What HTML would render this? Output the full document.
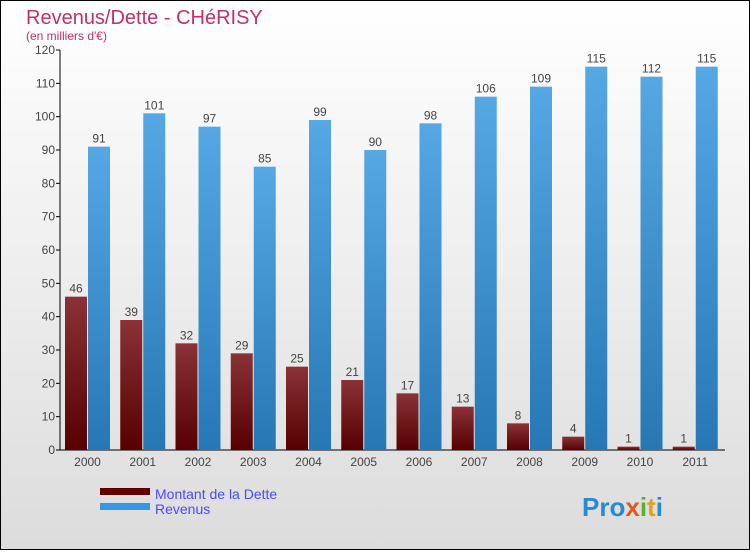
<!DOCTYPE html>
<html><head><meta charset="utf-8"><style>
body{margin:0;width:750px;height:550px;overflow:hidden;font-family:"Liberation Sans",sans-serif}
</style></head><body>
<svg width="750" height="550" xmlns="http://www.w3.org/2000/svg">
<defs>
<linearGradient id="bg" x1="0" y1="0" x2="0" y2="1"><stop offset="0" stop-color="#ffffff"/><stop offset="1" stop-color="#dcdcdc"/></linearGradient>
<linearGradient id="gd" x1="0" y1="0" x2="0" y2="1"><stop offset="0" stop-color="#8a3236"/><stop offset="1" stop-color="#560000"/></linearGradient>
<linearGradient id="gr" x1="0" y1="0" x2="0" y2="1"><stop offset="0" stop-color="#56a8e4"/><stop offset="1" stop-color="#2677b4"/></linearGradient>
</defs>
<rect x="0.5" y="0.5" width="749" height="549" fill="url(#bg)" stroke="#000"/>
<text x="26" y="24" font-size="20" fill="#c0306a">Revenus/Dette - CHéRISY</text>
<text x="26" y="40" font-size="12" fill="#c0306a">(en milliers d'€)</text>
<g id="axes"></g><g id="bars"></g>
<rect x="100" y="488" width="50" height="7" fill="#600000"/>
<text x="155" y="499" font-size="14" fill="#4a4aff">Montant de la Dette</text>
<rect x="100" y="503" width="50" height="7" fill="#3a96de"/>
<text x="155" y="514" font-size="14" fill="#4a4aff">Revenus</text>
<text x="582" y="516" font-size="26" font-weight="bold"><tspan fill="#2a8ad0">Pro</tspan><tspan fill="#e05a20">x</tspan><tspan fill="#5ab030">i</tspan><tspan fill="#e0a020">t</tspan><tspan fill="#2a8ad0">i</tspan></text>
</svg>
<script>
const years=["2000","2001","2002","2003","2004","2005","2006","2007","2008","2009","2010","2011"];
const dette=[46,39,32,29,25,21,17,13,8,4,1,1];
const revenus=[91,101,97,85,99,90,98,106,109,115,112,115];
const ticks=[0,10,20,30,40,50,60,70,80,90,100,110,120];
const NS="http://www.w3.org/2000/svg";
const y=v=>450-v*400/120;
const xc=i=>87.5+i*55.25;
function mk(t,a,p){const e=document.createElementNS(NS,t);for(const k in a)e.setAttribute(k,a[k]);p.appendChild(e);return e;}
const ax=document.getElementById('axes'),bs=document.getElementById('bars');
const yl=mk('line',{x1:60,y1:50,x2:60,y2:450,stroke:'#000'},ax);


const xl=mk('line',{x1:60,y1:450,x2:725,y2:450,stroke:'#000'},ax);


ticks.forEach(t=>{
 mk('line',{x1:56,y1:y(t),x2:60,y2:y(t),stroke:'#000'},ax);
 const tx=mk('text',{x:55,y:y(t)+4,'font-size':12,fill:'#444','text-anchor':'end'},ax);tx.textContent=t;
 
 
});
years.forEach((yr,i)=>{
 const c=xc(i);
 const tx=mk('text',{x:c,y:466,'font-size':12,fill:'#444','text-anchor':'middle'},ax);tx.textContent=yr;
 
 
 const b1=mk('rect',{x:c-22.5,y:y(dette[i]),width:22,height:450-y(dette[i]),fill:'url(#gd)'},bs);
 
 
 const l1=mk('text',{x:c-11.5,y:y(dette[i])-4,'font-size':12,fill:'#444','text-anchor':'middle'},bs);l1.textContent=dette[i];
 
 
 const b2=mk('rect',{x:c+0.5,y:y(revenus[i]),width:22,height:450-y(revenus[i]),fill:'url(#gr)'},bs);
 
 
 const l2=mk('text',{x:c+11.5,y:y(revenus[i])-4,'font-size':12,fill:'#444','text-anchor':'middle'},bs);l2.textContent=revenus[i];
 
 
});
</script>
</body></html>
